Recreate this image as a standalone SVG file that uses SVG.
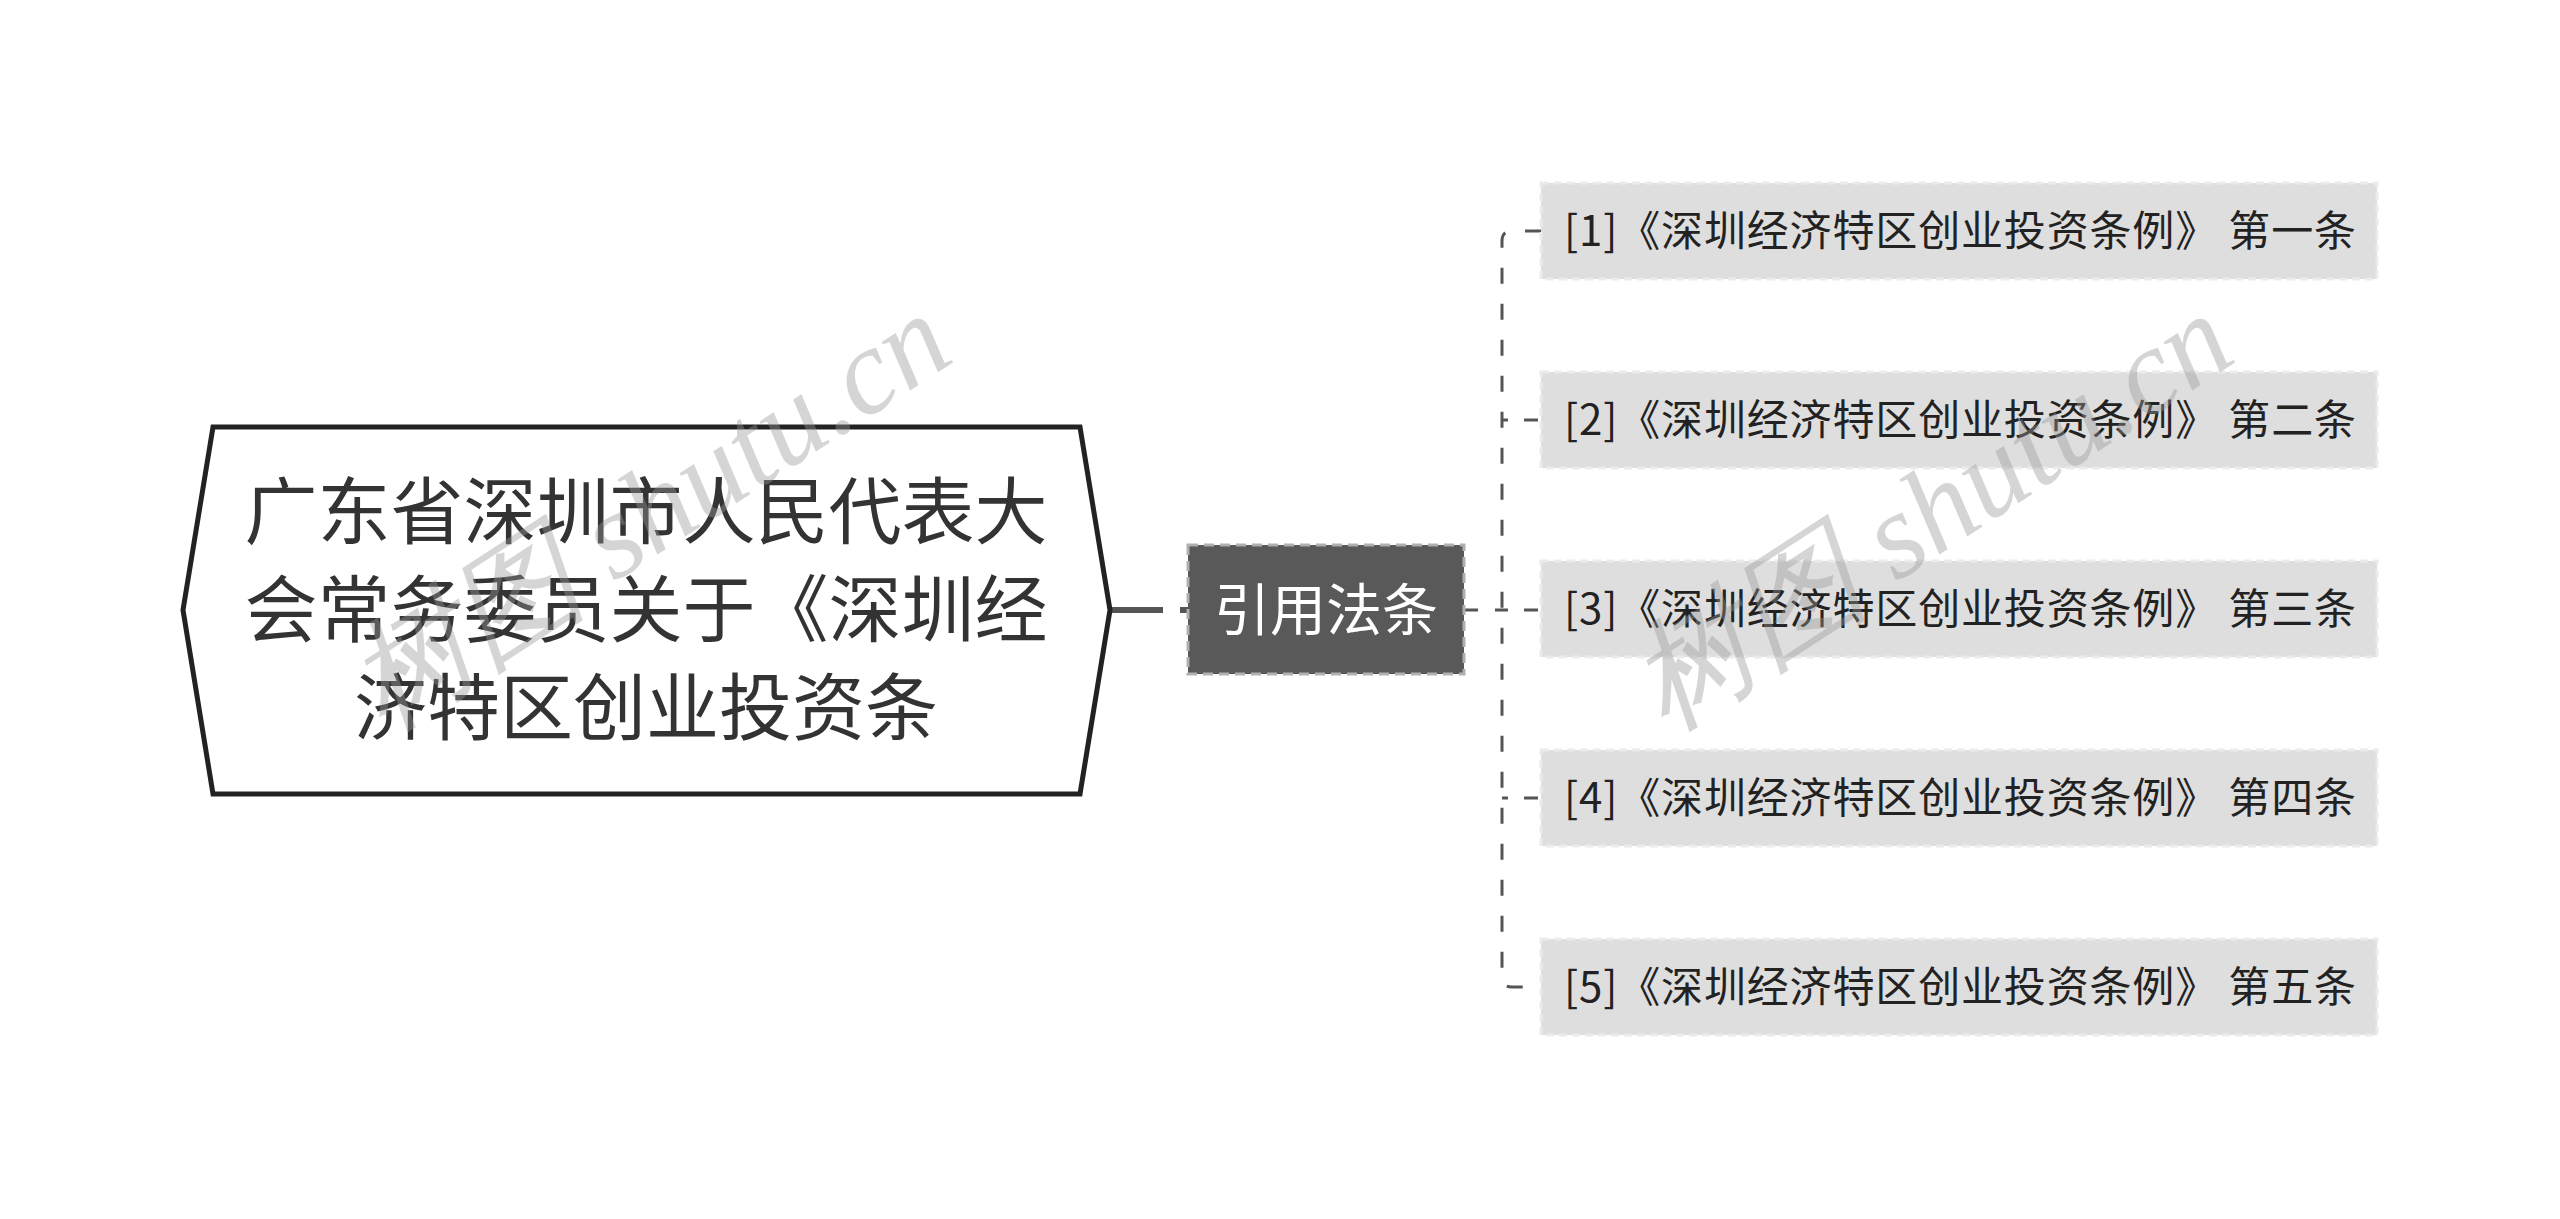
<svg xmlns="http://www.w3.org/2000/svg" width="2560" height="1219" viewBox="0 0 2560 1219">
<style>
.cjk{font-family:"Noto Sans CJK SC","Noto Sans",sans-serif}
.root-t{font-size:73px;fill:#333333}
.sub-t{font-size:56px;fill:#ffffff}
.leaf-box{fill:#dedede;stroke:#ebebeb;stroke-width:3;stroke-dasharray:8 5}
.leaf-t{font-size:42px;fill:#222222}
.wm{font-family:"Liberation Serif",serif;font-style:italic;font-size:122px;fill:#999999;opacity:0.4}
</style>
<rect width="2560" height="1219" fill="#ffffff"/>
<g id="connectors" fill="none">
  <line x1="1110" y1="610" x2="1188" y2="610" stroke="#555555" stroke-width="6" stroke-dasharray="53 17"/>
  <line x1="1464" y1="610" x2="1502" y2="610" stroke="#555555" stroke-width="3" stroke-dasharray="14 17"/>
  <path d="M1541,231 H1512 Q1502,231 1502,241 V977 Q1502,987 1512,987 H1541" stroke="#555555" stroke-width="3" stroke-dasharray="16 20"/>
  <line x1="1502" y1="420" x2="1541" y2="420" stroke="#555555" stroke-width="3" stroke-dasharray="6 16 14 10"/>
  <line x1="1502" y1="610" x2="1541" y2="610" stroke="#555555" stroke-width="3" stroke-dasharray="6 16 14 10"/>
  <line x1="1502" y1="798" x2="1541" y2="798" stroke="#555555" stroke-width="3" stroke-dasharray="6 16 14 10"/>
</g>
<g id="root">
  <polygon points="213,427 1080,427 1110,610 1080,794 213,794 183,610" fill="#ffffff" stroke="#222222" stroke-width="5" stroke-linejoin="miter"/>
  <text class="cjk root-t" text-anchor="middle" x="646" y="538">广东省深圳市人民代表大</text>
  <text class="cjk root-t" text-anchor="middle" x="646" y="636">会常务委员关于《深圳经</text>
  <text class="cjk root-t" text-anchor="middle" x="646" y="734">济特区创业投资条</text>
</g>
<g id="sub">
  <rect x="1188" y="545" width="276" height="129" fill="#595959" stroke="#b0b0b0" stroke-width="3" stroke-dasharray="10 6"/>
  <text class="cjk sub-t" text-anchor="middle" x="1326" y="630">引用法条</text>
</g>
<g id="leaf1">
  <rect class="leaf-box" x="1541" y="183" width="836" height="96"/>
  <text class="cjk leaf-t" x="1564" y="246" textLength="792" lengthAdjust="spacing">[1]《深圳经济特区创业投资条例》 第一条</text>
</g>
<g id="leaf2">
  <rect class="leaf-box" x="1541" y="372" width="836" height="96"/>
  <text class="cjk leaf-t" x="1564" y="435" textLength="792" lengthAdjust="spacing">[2]《深圳经济特区创业投资条例》 第二条</text>
</g>
<g id="leaf3">
  <rect class="leaf-box" x="1541" y="561" width="836" height="96"/>
  <text class="cjk leaf-t" x="1564" y="624" textLength="792" lengthAdjust="spacing">[3]《深圳经济特区创业投资条例》 第三条</text>
</g>
<g id="leaf4">
  <rect class="leaf-box" x="1541" y="750" width="836" height="96"/>
  <text class="cjk leaf-t" x="1564" y="813" textLength="792" lengthAdjust="spacing">[4]《深圳经济特区创业投资条例》 第四条</text>
</g>
<g id="leaf5">
  <rect class="leaf-box" x="1541" y="939" width="836" height="96"/>
  <text class="cjk leaf-t" x="1564" y="1002" textLength="792" lengthAdjust="spacing">[5]《深圳经济特区创业投资条例》 第五条</text>
</g>
<g id="watermarks">
  <text class="wm" x="650" y="552" text-anchor="middle" transform="rotate(-33 650 514)">树图 shutu.cn</text>
  <text class="wm" x="1932" y="552" text-anchor="middle" transform="rotate(-33 1932 514)">树图 shutu.cn</text>
</g>
</svg>
